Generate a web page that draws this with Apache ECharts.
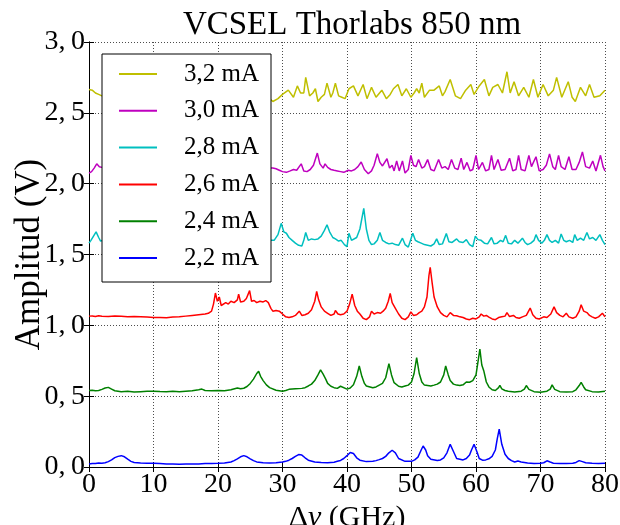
<!DOCTYPE html>
<html>
<head>
<meta charset="utf-8">
<script src="https://cdn.jsdelivr.net/npm/echarts@6/dist/echarts.min.js"></script>
<style>
html,body{margin:0;padding:0;background:#fff;}
#c{width:620px;height:525px;}
</style>
</head>
<body>
<div id="c"></div>
<script>
const titleText = 'VCSEL Thorlabs 850 nm';
const xName = '{n|Δ}{i|ν}{n| (GHz)}';
const yName = 'Amplitud (V)';
const seriesNames = ['3,2 mA', '3,0 mA', '2,8 mA', '2,6 mA', '2,4 mA', '2,2 mA'];
const seriesColors = ['#bfbf00', '#bf00bf', '#00bfbf', '#ff0000', '#008000', '#0000ff'];
const xTicks = [0, 10, 20, 30, 40, 50, 60, 70, 80];
const yTicks = [0, 0.5, 1.0, 1.5, 2.0, 2.5, 3.0];

// [GHz, V]
const s22 = [[0,0.022],[0.5,0.025],[1,0.024],[1.5,0.028],[2,0.027],[2.5,0.03],[3,0.038],[3.5,0.05],[4,0.066],[4.5,0.075],[5,0.08],[5.5,0.072],[6,0.055],[6.5,0.04],[7,0.032],[8,0.028],[9,0.027],[10,0.026],[11,0.024],[12,0.022],[13,0.022],[14,0.02],[15,0.021],[16,0.022],[17,0.022],[18,0.024],[19,0.025],[20,0.026],[21,0.028],[22,0.035],[22.5,0.045],[23,0.058],[23.5,0.072],[24,0.08],[24.5,0.072],[25,0.058],[25.5,0.045],[26,0.036],[27,0.03],[28,0.028],[29,0.03],[30,0.035],[30.5,0.04],[31,0.048],[31.5,0.06],[32,0.075],[32.5,0.088],[33,0.084],[33.5,0.065],[34,0.048],[35,0.036],[36,0.032],[37,0.03],[38,0.034],[38.5,0.04],[39,0.046],[39.5,0.06],[40,0.08],[40.5,0.102],[41,0.095],[41.5,0.065],[42,0.048],[43,0.038],[44,0.04],[44.5,0.045],[45,0.052],[45.5,0.06],[46,0.075],[46.5,0.1],[47,0.118],[47.5,0.1],[48,0.06],[49,0.04],[50,0.04],[50.5,0.05],[51,0.07],[51.5,0.12],[51.8,0.148],[52.2,0.12],[52.5,0.08],[53,0.055],[54,0.046],[54.5,0.05],[55,0.065],[55.5,0.1],[56,0.16],[56.4,0.12],[57,0.06],[57.5,0.055],[58,0.05],[58.5,0.06],[59,0.085],[59.3,0.12],[59.7,0.16],[60.2,0.1],[60.5,0.06],[61,0.048],[61.5,0.05],[62,0.058],[62.5,0.075],[63,0.12],[63.3,0.2],[63.6,0.268],[64,0.16],[64.5,0.09],[65,0.06],[65.5,0.045],[66,0.035],[66.5,0.042],[67,0.035],[68,0.028],[69,0.025],[70,0.026],[70.5,0.03],[71,0.044],[71.5,0.035],[72,0.027],[73,0.025],[74,0.024],[75,0.026],[75.5,0.032],[76,0.045],[76.5,0.038],[77,0.03],[78,0.026],[79,0.025],[80,0.026]];

const s24 = [[0,0.54],[0.5,0.542],[1,0.538],[1.5,0.54],[2,0.548],[2.5,0.558],[3,0.562],[3.5,0.55],[4,0.538],[5,0.532],[6,0.534],[7,0.53],[8,0.532],[9,0.534],[10,0.535],[11,0.533],[12,0.532],[13,0.534],[14,0.532],[15,0.535],[16,0.538],[17,0.545],[17.5,0.55],[18,0.54],[19,0.538],[20,0.54],[21,0.538],[22,0.545],[23,0.558],[23.5,0.552],[24,0.556],[24.5,0.568],[25,0.59],[25.5,0.62],[26,0.66],[26.3,0.675],[26.6,0.64],[27,0.61],[27.5,0.58],[28,0.56],[29,0.542],[30,0.535],[30.5,0.54],[31,0.548],[32,0.552],[33,0.555],[33.5,0.56],[34,0.572],[34.5,0.585],[35,0.61],[35.5,0.65],[35.9,0.685],[36.3,0.655],[36.7,0.62],[37,0.59],[37.5,0.57],[38,0.56],[38.5,0.555],[39,0.57],[39.3,0.56],[40,0.55],[40.5,0.558],[41,0.58],[41.5,0.64],[41.9,0.713],[42.3,0.64],[42.7,0.59],[43,0.572],[44,0.56],[44.5,0.565],[45,0.578],[45.5,0.59],[46,0.63],[46.5,0.73],[46.9,0.65],[47.3,0.595],[48,0.57],[48.5,0.565],[49,0.572],[49.5,0.578],[50,0.6],[50.4,0.66],[50.8,0.772],[51.2,0.66],[51.6,0.6],[52,0.578],[53,0.572],[53.5,0.578],[54,0.585],[54.5,0.6],[55,0.65],[55.3,0.713],[55.7,0.65],[56,0.61],[56.5,0.585],[57,0.578],[57.5,0.575],[58,0.58],[58.5,0.6],[59,0.598],[59.5,0.61],[60,0.65],[60.3,0.74],[60.6,0.833],[60.9,0.72],[61.2,0.68],[61.6,0.6],[62,0.565],[62.5,0.545],[63,0.54],[63.5,0.56],[63.7,0.576],[64,0.552],[64.5,0.54],[65,0.535],[66,0.53],[67,0.535],[67.5,0.55],[67.8,0.575],[68.2,0.548],[69,0.532],[70,0.528],[71,0.535],[71.5,0.55],[71.8,0.58],[72.2,0.548],[73,0.532],[74,0.53],[75,0.532],[75.5,0.545],[76,0.575],[76.3,0.598],[76.7,0.565],[77,0.545],[78,0.532],[79,0.53],[80,0.535]];

const s26 = [[0,1.065],[0.5,1.066],[1,1.062],[1.5,1.068],[2,1.064],[3,1.062],[4,1.066],[5,1.064],[6,1.06],[7,1.062],[8,1.06],[9,1.058],[10,1.055],[11,1.056],[12,1.054],[13,1.058],[14,1.06],[15,1.065],[16,1.07],[17,1.075],[18,1.08],[18.5,1.085],[19,1.1],[19.3,1.15],[19.6,1.228],[19.9,1.17],[20.2,1.2],[20.5,1.14],[20.8,1.13],[21.2,1.16],[21.6,1.15],[22,1.17],[22.5,1.16],[23,1.18],[23.2,1.22],[23.5,1.165],[24,1.17],[24.4,1.19],[24.9,1.245],[25.2,1.17],[25.6,1.175],[26,1.16],[26.5,1.17],[27,1.165],[27.4,1.175],[27.8,1.16],[28.2,1.12],[28.5,1.1],[29,1.105],[29.5,1.1],[30,1.08],[30.5,1.06],[31,1.055],[31.5,1.06],[32,1.07],[32.6,1.1],[33,1.07],[33.5,1.075],[34,1.085],[34.5,1.11],[35,1.17],[35.3,1.24],[35.6,1.18],[36,1.13],[36.5,1.1],[37,1.085],[37.5,1.07],[38,1.08],[38.2,1.105],[38.6,1.08],[39,1.075],[39.5,1.08],[40,1.1],[40.4,1.15],[40.8,1.22],[41.2,1.14],[41.6,1.1],[42,1.08],[42.5,1.05],[43,1.04],[43.5,1.06],[43.8,1.1],[44.2,1.08],[44.7,1.09],[45.2,1.085],[45.6,1.1],[46,1.12],[46.4,1.17],[46.7,1.225],[47,1.16],[47.5,1.12],[48,1.08],[48.5,1.05],[49,1.04],[49.5,1.06],[49.9,1.095],[50.3,1.07],[50.8,1.075],[51.2,1.09],[51.6,1.1],[52,1.13],[52.4,1.2],[52.7,1.35],[52.9,1.41],[53.2,1.3],[53.5,1.2],[54,1.13],[54.5,1.09],[55,1.07],[55.5,1.06],[56,1.09],[56.5,1.07],[57,1.068],[57.5,1.06],[58,1.055],[58.5,1.045],[59,1.04],[59.5,1.05],[60,1.045],[60.5,1.06],[60.8,1.08],[61.2,1.065],[61.6,1.07],[62,1.058],[62.5,1.045],[63,1.04],[63.5,1.055],[64,1.06],[64.5,1.065],[64.8,1.09],[65.2,1.062],[65.8,1.07],[66.2,1.055],[66.7,1.05],[67.2,1.06],[67.8,1.07],[68.4,1.122],[68.8,1.075],[69.3,1.05],[69.8,1.045],[70.5,1.06],[71,1.055],[71.6,1.08],[72.1,1.13],[72.5,1.09],[73,1.07],[73.5,1.06],[74,1.085],[74.4,1.06],[75,1.05],[75.5,1.06],[76,1.1],[76.3,1.145],[76.7,1.1],[77.2,1.09],[77.6,1.07],[78,1.06],[78.5,1.05],[79,1.06],[79.6,1.085],[80,1.06]];

const s28 = [[0,1.58],[0.3,1.6],[0.7,1.63],[1.1,1.66],[1.5,1.62],[1.8,1.595],[2.2,1.6],[3,1.59],[4,1.6],[5,1.59],[6,1.61],[7,1.59],[8,1.6],[9,1.59],[10,1.6],[12,1.59],[14,1.6],[16,1.59],[18,1.6],[20,1.6],[22,1.59],[24,1.6],[26,1.6],[28,1.6],[28.7,1.6],[29.3,1.64],[29.8,1.72],[30.2,1.66],[30.6,1.65],[31,1.62],[31.5,1.6],[32,1.58],[32.5,1.565],[33,1.56],[33.3,1.6],[33.6,1.655],[34,1.6],[34.5,1.61],[35,1.605],[35.5,1.61],[36,1.63],[36.5,1.67],[36.9,1.71],[37.3,1.66],[37.8,1.62],[38.2,1.61],[38.7,1.595],[39.1,1.6],[39.6,1.57],[40,1.555],[40.3,1.65],[40.7,1.6],[41,1.59],[41.5,1.62],[42,1.68],[42.6,1.825],[43,1.68],[43.4,1.6],[43.8,1.57],[44.2,1.575],[44.7,1.6],[45.1,1.655],[45.5,1.6],[46,1.585],[46.5,1.575],[47,1.58],[47.5,1.57],[48,1.565],[48.6,1.615],[49,1.57],[49.5,1.552],[50.2,1.65],[50.6,1.6],[51,1.59],[51.5,1.58],[52,1.57],[52.5,1.565],[53,1.56],[53.5,1.575],[53.9,1.61],[54.3,1.57],[54.8,1.575],[55.4,1.648],[55.8,1.59],[56.3,1.585],[57,1.61],[57.4,1.59],[58,1.585],[58.5,1.605],[59,1.57],[59.5,1.555],[59.9,1.63],[60.3,1.605],[60.8,1.6],[61.3,1.58],[61.8,1.575],[62.4,1.62],[62.8,1.575],[63.3,1.58],[63.8,1.6],[64.2,1.59],[64.6,1.635],[65,1.58],[65.5,1.575],[66,1.6],[66.5,1.58],[67.2,1.615],[67.6,1.585],[68,1.57],[68.5,1.58],[69,1.6],[69.3,1.64],[69.7,1.6],[70.2,1.58],[70.6,1.6],[71,1.64],[71.4,1.6],[71.8,1.585],[72.3,1.6],[72.8,1.58],[73.2,1.645],[73.6,1.6],[74,1.59],[74.5,1.6],[75,1.585],[75.3,1.64],[75.7,1.6],[76.2,1.615],[76.7,1.6],[77.2,1.655],[77.6,1.61],[78.1,1.62],[78.6,1.6],[79.2,1.64],[79.6,1.6],[80,1.57]];

const s30 = [[0,2.075],[0.4,2.085],[0.8,2.11],[1.2,2.14],[1.6,2.12],[2,2.115],[3,2.11],[4,2.1],[6,2.11],[8,2.1],[10,2.11],[12,2.1],[14,2.11],[16,2.1],[18,2.11],[20,2.1],[22,2.11],[24,2.1],[26,2.11],[28,2.11],[28.5,2.11],[29,2.105],[29.5,2.095],[30,2.085],[30.6,2.08],[31.2,2.09],[31.7,2.1],[32.2,2.095],[32.9,2.14],[33.3,2.09],[33.8,2.085],[34.3,2.1],[34.8,2.13],[35.4,2.216],[35.8,2.14],[36.3,2.11],[36.6,2.14],[37,2.115],[37.5,2.1],[38,2.094],[38.5,2.09],[39,2.085],[39.5,2.08],[40.2,2.095],[40.7,2.09],[41.2,2.1],[41.7,2.12],[42.2,2.153],[42.7,2.1],[43.3,2.07],[43.8,2.09],[44.2,2.13],[44.7,2.212],[45.1,2.15],[45.5,2.125],[45.8,2.13],[46.2,2.176],[46.6,2.11],[47,2.13],[47.3,2.09],[47.7,2.16],[48.1,2.09],[48.6,2.16],[49,2.075],[49.5,2.1],[49.9,2.2],[50.3,2.13],[50.7,2.12],[51.1,2.17],[51.6,2.11],[52,2.12],[52.5,2.17],[53,2.1],[53.5,2.09],[54.2,2.17],[54.7,2.11],[55.2,2.12],[55.7,2.1],[56.2,2.17],[56.7,2.11],[57.2,2.1],[57.7,2.18],[58.1,2.1],[58.6,2.15],[59.1,2.09],[59.5,2.1],[60,2.2],[60.4,2.1],[61,2.15],[61.5,2.09],[62,2.1],[62.4,2.2],[62.8,2.1],[63.4,2.17],[63.9,2.095],[64.5,2.1],[65.2,2.18],[65.7,2.09],[66.2,2.1],[66.6,2.2],[67,2.1],[67.6,2.09],[68.2,2.2],[68.6,2.12],[69.3,2.19],[69.8,2.09],[70.4,2.1],[70.9,2.13],[71.4,2.21],[71.9,2.12],[72.3,2.1],[72.8,2.2],[73.2,2.12],[73.8,2.1],[74.4,2.19],[74.9,2.1],[75.5,2.1],[76,2.15],[76.5,2.224],[77,2.12],[77.6,2.11],[78.1,2.16],[78.6,2.09],[79.3,2.2],[79.7,2.12],[80,2.09]];

const s32 = [[0,2.665],[0.5,2.66],[1,2.64],[1.5,2.63],[2,2.62],[2.5,2.62],[4,2.63],[6,2.62],[8,2.63],[10,2.62],[12,2.63],[14,2.62],[16,2.63],[18,2.62],[20,2.63],[22,2.62],[24,2.63],[26,2.62],[28,2.6],[28.5,2.58],[29.3,2.6],[30,2.63],[30.9,2.66],[31.7,2.61],[32.3,2.69],[32.8,2.64],[33.3,2.64],[33.6,2.75],[34.2,2.62],[34.7,2.64],[35.1,2.67],[35.5,2.58],[36,2.61],[36.5,2.63],[36.9,2.71],[37.5,2.61],[37.8,2.64],[38.2,2.71],[38.7,2.62],[39.2,2.61],[39.7,2.6],[40.3,2.67],[41,2.69],[41.7,2.62],[42.5,2.7],[43.1,2.6],[43.8,2.68],[44.5,2.61],[45.4,2.66],[46.1,2.6],[46.7,2.63],[47.2,2.67],[47.9,2.7],[48.5,2.62],[49.2,2.67],[49.9,2.61],[50.4,2.64],[50.8,2.67],[51.2,2.64],[51.6,2.71],[52,2.61],[52.8,2.66],[53.5,2.66],[54.3,2.69],[54.8,2.62],[55.2,2.65],[56,2.735],[56.8,2.62],[57.6,2.6],[58.4,2.66],[59.2,2.7],[59.7,2.63],[60.5,2.69],[61.3,2.735],[62,2.62],[62.6,2.68],[63.4,2.7],[64.1,2.64],[64.8,2.79],[65.3,2.64],[65.9,2.72],[66.6,2.62],[67.4,2.68],[68.2,2.61],[68.9,2.735],[69.6,2.61],[70.4,2.7],[71.2,2.62],[72,2.66],[72.5,2.75],[73.3,2.61],[74.3,2.72],[74.9,2.61],[75.4,2.58],[76.2,2.68],[77,2.62],[77.6,2.7],[78.3,2.61],[79.2,2.62],[80,2.66]];

const seriesData = [s32, s30, s28, s26, s24, s22];

const FONT = '"Liberation Serif", "Times New Roman", serif';
const chart = echarts.init(document.getElementById('c'), null, {renderer: 'canvas'});

function yFmt(v) {
  return v.toFixed(1).replace('.', ',\u2009');
}

const baseX = {
  type: 'value', min: 0, max: 80, interval: 10
};
const baseY = {
  type: 'value', min: 0, max: 3, interval: 0.5
};

const option = {
  backgroundColor: '#fff',
  animation: false,
  title: {
    text: titleText,
    left: 347, top: 4, textAlign: 'center',
    textStyle: {fontFamily: FONT, fontSize: 33, fontWeight: 'normal', color: '#000'}
  },
  grid: {left: 89, right: 15, top: 42, bottom: 58, containLabel: false, outerBoundsMode: 'none'},
  legend: {
    orient: 'vertical',
    left: 102, top: 54,
    data: seriesNames,
    icon: 'rect',
    itemWidth: 38, itemHeight: 2,
    itemGap: 6.8,
    padding: [5, 12, 9, 17],
    borderColor: '#000', borderWidth: 1,
    backgroundColor: '#fff',
    textStyle: {fontFamily: FONT, fontSize: 25, color: '#000', lineHeight: 30, padding: [0, 0, 0, 22]}
  },
  xAxis: [
    Object.assign({}, baseX, {
      position: 'bottom',
      name: xName,
      nameLocation: 'middle',
      nameGap: 36,
      nameMoveOverlap: false,
      nameTextStyle: {fontFamily: FONT, fontSize: 30, color: '#000',
        rich: {
          n: {fontFamily: FONT, fontSize: 30, color: '#000'},
          i: {fontFamily: FONT, fontSize: 30, color: '#000', fontStyle: 'italic'}
        }},
      axisLine: {show: true, lineStyle: {color: '#000', width: 1}},
      axisTick: {show: true, inside: true, length: 5, lineStyle: {color: '#000'}},
      axisLabel: {show: true, margin: 4, fontFamily: FONT, fontSize: 28, color: '#000',
        formatter: v => String(v)},
      splitLine: {show: true, lineStyle: {color: '#000', width: 0.7, type: [1, 2]}}
    }),
    Object.assign({}, baseX, {
      position: 'top',
      axisLine: {show: true, lineStyle: {color: '#000', width: 1}},
      axisTick: {show: true, inside: true, length: 5, lineStyle: {color: '#000'}},
      axisLabel: {show: false},
      splitLine: {show: false}
    })
  ],
  yAxis: [
    Object.assign({}, baseY, {
      position: 'left',
      name: yName,
      nameLocation: 'middle',
      nameGap: 42,
      nameMoveOverlap: false,
      nameTextStyle: {fontFamily: FONT, fontSize: 35, color: '#000'},
      axisLine: {show: true, lineStyle: {color: '#000', width: 1}},
      axisTick: {show: true, inside: true, length: 5, lineStyle: {color: '#000'}},
      axisLabel: {show: true, margin: 4, fontFamily: FONT, fontSize: 28, color: '#000',
        formatter: yFmt},
      splitLine: {show: true, lineStyle: {color: '#000', width: 0.7, type: [1, 2]}}
    }),
    Object.assign({}, baseY, {
      position: 'right',
      axisLine: {show: true, lineStyle: {color: '#000', width: 1}},
      axisTick: {show: true, inside: true, length: 5, lineStyle: {color: '#000'}},
      axisLabel: {show: false},
      splitLine: {show: false}
    })
  ],
  series: seriesNames.map((name, i) => ({
    name: name,
    type: 'line',
    xAxisIndex: 0, yAxisIndex: 0,
    data: seriesData[i],
    symbol: 'none',
    showSymbol: false,
    lineStyle: {color: seriesColors[i], width: 1.5},
    itemStyle: {color: seriesColors[i]},
    z: 2
  }))
};
chart.setOption(option);
</script>
</body>
</html>
